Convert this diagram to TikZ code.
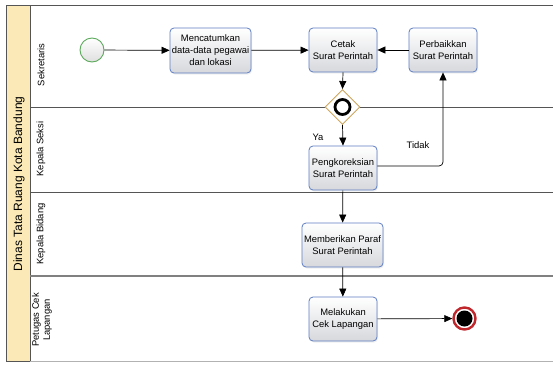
\documentclass[tikz,border=0pt]{standalone}
\usepackage{fontspec}
\setmainfont{Liberation Sans}
\usetikzlibrary{arrows.meta,shapes.geometric,shadows}
\definecolor{poolfill}{HTML}{FBEAB7}
\definecolor{laneline}{HTML}{555555}
\definecolor{taskborder}{HTML}{5F7EC2}
\definecolor{taskbottom}{HTML}{D6D8DC}
\definecolor{startgreen}{HTML}{5DAA5D}
\definecolor{gateborder}{HTML}{CFA55C}
\definecolor{endred}{HTML}{C0272D}
\tikzset{
  task/.style={draw=taskborder, line width=0.8pt, rounded corners=4pt,
    top color=white, bottom color=taskbottom, align=center,
    font=\fontsize{9.4}{12}\selectfont, inner sep=1pt,
    minimum width=68pt, minimum height=44pt,
    drop shadow={opacity=0.12, shadow xshift=1pt, shadow yshift=-1.5pt}},
  flow/.style={draw=black, line width=0.7pt, -{Triangle[length=8pt,width=7pt]}},
  lanelabel/.style={rotate=90, font=\fontsize{9.4}{11}\selectfont, align=center},
  flowlabel/.style={font=\fontsize{9.4}{11}\selectfont}
}
\begin{document}
\begin{tikzpicture}[x=1pt,y=-1pt]
\useasboundingbox (0,0) rectangle (553,364);
% pool and lanes
\fill[white] (0,0) rectangle (553,364);
\draw[laneline, line width=0.8pt, fill=poolfill] (6,5) rectangle (30,361);
\draw[laneline, line width=0.9pt] (30,5) -- (553,5);
\draw[laneline, line width=0.9pt] (30,107) -- (553,107);
\draw[laneline, line width=0.9pt] (30,192) -- (553,192);
\draw[gray, line width=1.2pt] (30,276) -- (553,276);
\draw[gray!60, line width=0.8pt] (30,361) -- (553,361);
\node[rotate=90, font=\fontsize{12}{14}\selectfont] (pool) at (19,184) {Dinas Tata Ruang Kota Bandung};
\node[lanelabel] (l1) at (41,65) {Sekretaris};
\node[lanelabel] (l2) at (41,149) {Kepala Seksi};
\node[lanelabel] (l3) at (41,234) {Kepala Bidang};
\node[lanelabel] (l4) at (42,320) {Petugas Cek\\Lapangan};
% events, tasks, gateway
\node[circle, draw=startgreen, line width=0.9pt, minimum size=24pt, inner sep=0pt,
  top color=white, bottom color=gray!25] (start) at (92,50) {};
\node[task, minimum width=81pt, minimum height=45pt] (catat) at (210.5,50.5) {Mencatumkan\\data-data pegawai\\dan lokasi};
\node[task] (cetak) at (343,50) {Cetak\\Surat Perintah};
\node[task] (perbaiki) at (443,50) {Perbaikkan\\Surat Perintah};
\node[diamond, draw=gateborder, line width=0.9pt, fill=white, minimum width=35pt,
  minimum height=35pt, inner sep=0pt] (gate) at (342.5,107) {};
\draw[black, line width=2.8pt] (gate.center) circle (7.5pt);
\node[task] (koreksi) at (343,168) {Pengkoreksian\\Surat Perintah};
\node[task, minimum width=81pt] (paraf) at (342.5,245) {Memberikan Paraf\\Surat Perintah};
\node[task] (cek) at (343,319) {Melakukan\\Cek Lapangan};
\node[circle, draw=endred, line width=2.4pt, fill=white, minimum size=22pt, inner sep=0pt] (end) at (464.5,318.5) {};
\fill[black] (end.center) circle (8pt);
% sequence flows
\draw[flow] (start) -- (catat);
\draw[flow] (catat) -- (cetak);
\draw[flow] (perbaiki) -- (cetak);
\draw[flow] (cetak.south) -- (gate.north);
\draw[flow] (gate.south) -- (koreksi.north);
\draw[flow, rounded corners=4pt] (koreksi.east) ++(0,-2) -- (perbaiki.south |- {0,166}) -- (perbaiki.south);
\draw[flow] (koreksi) -- (paraf);
\draw[flow] (paraf) -- (cek);
\draw[flow] (cek) -- (end);
\node[flowlabel] (ya) at (318,137) {Ya};
\node[flowlabel] (tidak) at (418,145) {Tidak};
\end{tikzpicture}
\end{document}
